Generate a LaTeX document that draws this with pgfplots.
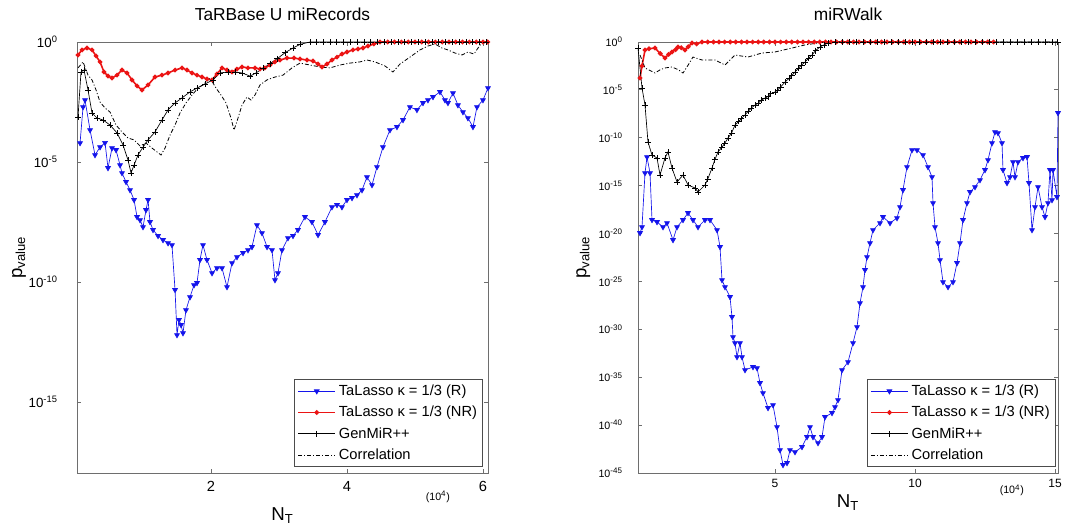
\documentclass[border=0pt]{standalone}
\usepackage{fontspec}
\setmainfont{Liberation Sans}
\usepackage{pgfplots}
\pgfplotsset{compat=1.18}
\definecolor{mblue}{RGB}{20,20,235}
\definecolor{mred}{RGB}{235,20,20}
\definecolor{frame}{RGB}{110,110,110}

\pgfplotsset{
  matlabaxis/.style={
    scale only axis,
    clip=false,
    axis line style={frame, line width=0.7pt},
    tick style={frame, line width=0.6pt},
    major tick length=3pt,
    tick align=inside,
    ymax=0,
    height=323.25pt,
    legend cell align=left,
    legend image code/.code={\draw[mark repeat=2,mark phase=2,##1] plot coordinates {(0pt,0pt) (14pt,0pt) (28pt,0pt)};},
    legend style={at={(axis description cs:1,0)}, anchor=south east, draw=black!70, fill=white,
      row sep=2.5pt, inner sep=2pt, font=\fontsize{11}{12}\selectfont},
    title style={at={(axis description cs:0.5,1)}, anchor=center, yshift=15pt, font=\fontsize{13}{15}\selectfont},
    xlabel style={font=\fontsize{14}{16}\selectfont},
    ylabel style={font=\fontsize{14}{16}\selectfont},
  },
  blues/.style={mblue, line width=0.5pt, mark=triangle*, mark size=2.1pt, mark options={rotate=180, fill=mblue, draw=mblue}},
  reds/.style={mred, line width=1.2pt, mark=*, mark size=1.1pt, mark options={fill=mred, draw=mred}},
  gens/.style={black, line width=0.5pt, mark=+, mark size=2.2pt, mark options={solid}},
  cors/.style={black, line width=0.6pt, dash pattern=on 3pt off 1.5pt on 0.8pt off 1.5pt},
}

\begin{document}
\begin{tikzpicture}
\useasboundingbox (0,0) rectangle (798.75pt,395.25pt);

% left panel
\begin{axis}[
  matlabaxis,
  at={(57.75pt,40.5pt)}, anchor=south west,
  width=308.25pt,
  xmin=0.029, xmax=6.074,
  ymin=-17.96,
  xtick={2,4,6}, xticklabels={2,4,6},
  ytick={-15,-10,-5,0},
  yticklabels={10\textsuperscript{-15},10\textsuperscript{-10},10\textsuperscript{-5},10\textsuperscript{0}},
  xticklabel style={font=\fontsize{11}{12}\selectfont, yshift=-3pt},
  yticklabel style={font=\fontsize{10}{11}\selectfont, xshift=-11pt},
  title={TaRBase U miRecords},
  xlabel={N\textsubscript{T}},
  xlabel style={at={(axis description cs:0.5,0)}, anchor=center, yshift=-32pt},
  ylabel={p\textsubscript{value}},
  ylabel style={at={(axis description cs:-0.141,0.5)}, anchor=center},
  legend style={xshift=-4pt, yshift=4.5pt},
]
\addplot[blues] coordinates {
(0.074,-4.21)(0.118,-2.71)(0.147,-2.42)(0.221,-3.67)(0.294,-4.71)(0.368,-4.38)(0.441,-4.2)(0.485,-5.25)
(0.544,-4.42)(0.603,-4.5)(0.662,-5.13)(0.691,-5.46)(0.75,-5.83)(0.809,-6.17)(0.868,-6.58)(0.912,-7.29)
(0.956,-7.42)(1.0,-7.71)(1.044,-7.0)(1.074,-6.58)(1.103,-7.5)(1.147,-7.83)(1.221,-8.08)(1.294,-8.25)
(1.368,-8.38)(1.426,-8.46)(1.471,-10.33)(1.5,-12.21)(1.529,-11.58)(1.559,-11.79)(1.588,-12.13)(1.632,-11.17)
(1.691,-10.63)(1.75,-10.13)(1.794,-10.04)(1.838,-9.08)(1.882,-8.46)(1.941,-9.08)(2.015,-9.63)(2.088,-9.42)
(2.162,-9.42)(2.235,-10.21)(2.309,-9.21)(2.382,-8.96)(2.471,-8.79)(2.544,-8.67)(2.603,-8.54)(2.676,-7.63)
(2.75,-7.96)(2.824,-8.54)(2.897,-8.67)(2.941,-9.92)(2.985,-9.63)(3.044,-8.67)(3.132,-8.17)(3.206,-8.08)
(3.279,-7.83)(3.382,-7.29)(3.485,-7.5)(3.574,-8.04)(3.676,-7.5)(3.779,-6.88)(3.853,-6.79)(3.926,-6.88)
(4.0,-6.58)(4.074,-6.5)(4.147,-6.38)(4.221,-6.17)(4.294,-5.63)(4.368,-5.96)(4.441,-5.21)(4.529,-4.38)
(4.632,-3.67)(4.735,-3.54)(4.824,-3.25)(4.926,-2.71)(5.029,-2.83)(5.118,-2.54)(5.191,-2.42)(5.265,-2.29)
(5.368,-2.08)(5.441,-2.42)(5.485,-2.54)(5.559,-2.13)(5.632,-2.63)(5.706,-2.92)(5.779,-3.17)(5.853,-3.54)
(5.912,-2.71)(6.0,-2.42)(6.074,-1.92)
};
\addlegendentry{TaLasso κ = 1/3 (R)}
\addplot[reds] coordinates {
(0.044,-0.54)(0.103,-0.33)(0.176,-0.25)(0.25,-0.33)(0.309,-0.58)(0.368,-0.83)(0.426,-1.25)(0.485,-1.42)
(0.544,-1.5)(0.618,-1.38)(0.691,-1.17)(0.765,-1.29)(0.838,-1.58)(0.912,-1.83)(0.985,-2.0)(1.074,-1.79)
(1.176,-1.46)(1.279,-1.38)(1.368,-1.29)(1.471,-1.17)(1.574,-1.08)(1.647,-1.17)(1.721,-1.29)(1.794,-1.38)
(1.868,-1.46)(1.941,-1.54)(2.015,-1.58)(2.088,-1.33)(2.162,-1.08)(2.235,-1.17)(2.309,-1.25)(2.382,-1.13)
(2.456,-1.04)(2.544,-1.08)(2.647,-1.08)(2.721,-1.13)(2.794,-1.08)(2.868,-0.96)(2.941,-0.83)(3.015,-0.75)
(3.118,-0.67)(3.221,-0.67)(3.309,-0.71)(3.412,-0.75)(3.5,-0.79)(3.574,-0.92)(3.632,-1.04)(3.706,-0.92)
(3.779,-0.75)(3.853,-0.63)(3.926,-0.5)(4.0,-0.42)(4.088,-0.33)(4.162,-0.29)(4.235,-0.25)(4.309,-0.17)
(4.397,-0.08)(4.485,0)(4.6,0)(4.7,0)(4.8,0)(4.9,0)(5.0,0)(5.1,0)(5.2,0)(5.3,0)(5.4,0)(5.5,0)(5.6,0)
(5.7,0)(5.8,0)(5.9,0)(6.0,0)(6.07,0)
};
\addlegendentry{TaLasso κ = 1/3 (NR)}
\addplot[gens] coordinates {
(0.044,-3.125)(0.088,-1.25)(0.132,-1.17)(0.191,-2.0)(0.25,-2.96)(0.324,-3.17)(0.412,-3.25)(0.515,-3.46)
(0.618,-3.79)(0.706,-4.29)(0.779,-4.92)(0.824,-5.46)(0.868,-5.13)(0.926,-4.71)(1.0,-4.38)(1.074,-4.08)
(1.176,-3.75)(1.279,-3.25)(1.368,-2.83)(1.471,-2.54)(1.574,-2.33)(1.691,-2.08)(1.794,-1.92)(1.912,-1.75)
(2.029,-1.58)(2.132,-1.29)(2.25,-1.25)(2.353,-1.25)(2.456,-1.29)(2.574,-1.42)(2.662,-1.29)(2.765,-1.1)
(2.868,-0.9)(2.971,-0.7)(3.088,-0.45)(3.206,-0.25)(3.309,-0.1)(3.456,0)(3.55,0)(3.65,0)(3.75,0)
(3.85,0)(3.95,0)(4.05,0)(4.15,0)(4.25,0)(4.35,0)(4.45,0)(4.55,0)(4.65,0)(4.75,0)(4.85,0)(4.95,0)
(5.05,0)(5.15,0)(5.25,0)(5.35,0)(5.45,0)(5.55,0)(5.65,0)(5.75,0)(5.85,0)(5.95,0)(6.05,0)
};
\addlegendentry{GenMiR++}
\addplot[cors] coordinates {
(0.044,-1.08)(0.118,-0.83)(0.191,-1.38)(0.25,-1.58)(0.309,-2.0)(0.368,-2.5)(0.441,-2.75)(0.515,-2.92)
(0.603,-3.46)(0.691,-3.75)(0.779,-4.0)(0.868,-4.08)(0.956,-4.33)(1.044,-4.21)(1.132,-4.42)(1.206,-4.58)
(1.265,-4.71)(1.324,-4.42)(1.397,-3.88)(1.471,-3.46)(1.544,-2.96)(1.632,-2.54)(1.721,-2.21)(1.809,-1.92)
(1.897,-1.75)(1.985,-1.5)(2.074,-1.92)(2.147,-2.21)(2.221,-2.54)(2.294,-3.17)(2.338,-3.67)(2.397,-3.17)
(2.456,-2.63)(2.529,-2.29)(2.588,-2.42)(2.647,-2.21)(2.721,-1.79)(2.824,-1.58)(2.941,-1.46)(3.059,-1.38)
(3.191,-1.08)(3.309,-0.88)(3.456,-0.96)(3.603,-1.04)(3.75,-1.08)(3.897,-0.96)(4.044,-0.88)(4.191,-0.83)
(4.294,-0.75)(4.412,-0.83)(4.559,-1.0)(4.676,-1.25)(4.779,-0.92)(4.926,-0.63)(5.074,-0.33)(5.191,-0.17)
(5.294,-0.08)(5.397,-0.25)(5.485,-0.33)(5.588,-0.46)(5.691,-0.54)(5.779,-0.42)(5.868,-0.5)(5.956,-0.13)
(6.044,0)(6.074,0)
};
\addlegendentry{Correlation}
\node[font=\fontsize{8}{9}\selectfont, yshift=-18pt] at (axis description cs:0.878,0) {(10\textsuperscript{4})};
\end{axis}

% right panel
\begin{axis}[
  matlabaxis,
  at={(478.5pt,40.5pt)}, anchor=south west,
  width=315pt,
  xmin=0.107, xmax=15.107,
  ymin=-45,
  xtick={5,10,15}, xticklabels={5,10,15},
  ytick={-45,-40,-35,-30,-25,-20,-15,-10,-5,0},
  yticklabels={10\textsuperscript{-45},10\textsuperscript{-40},10\textsuperscript{-35},10\textsuperscript{-30},10\textsuperscript{-25},
    10\textsuperscript{-20},10\textsuperscript{-15},10\textsuperscript{-10},10\textsuperscript{-5},10\textsuperscript{0}},
  xticklabel style={font=\fontsize{9}{10}\selectfont, yshift=-1pt},
  yticklabel style={font=\fontsize{8}{9}\selectfont, xshift=-8pt},
  title={miRWalk},
  xlabel={N\textsubscript{T}},
  xlabel style={at={(axis description cs:0.5,0)}, anchor=center, yshift=-22pt},
  ylabel={p\textsubscript{value}},
  ylabel style={at={(axis description cs:-0.130,0.5)}, anchor=center},
  legend style={xshift=-2pt, yshift=4.5pt},
]
\addplot[blues] coordinates {
(0.179,-19.94)(0.25,-19.32)(0.357,-13.68)(0.429,-12.01)(0.536,-13.68)(0.607,-18.58)(0.786,-18.79)(1.0,-19.32)
(1.143,-18.90)(1.357,-20.67)(1.5,-19.32)(1.714,-18.58)(1.893,-17.85)(2.071,-18.58)(2.25,-19.32)(2.5,-18.58)
(2.679,-18.58)(2.929,-19.63)(3.036,-21.40)(3.107,-24.85)(3.214,-25.58)(3.393,-26.62)(3.464,-28.71)(3.5,-30.80)
(3.571,-31.43)(3.643,-32.89)(3.75,-31.43)(3.821,-32.89)(3.929,-34.25)(4.214,-33.93)(4.357,-34.04)(4.464,-35.60)
(4.571,-36.65)(4.75,-38.21)(4.929,-37.90)(5.071,-40.20)(5.179,-42.60)(5.286,-44.16)(5.429,-43.95)(5.536,-42.60)
(5.714,-42.81)(5.964,-42.28)(6.143,-41.24)(6.25,-40.20)(6.357,-41.24)(6.536,-41.87)(6.679,-41.24)(6.786,-39.15)
(7.036,-38.73)(7.143,-38.11)(7.25,-37.38)(7.393,-34.25)(7.607,-33.41)(7.786,-31.43)(7.929,-29.76)(8.036,-27.25)
(8.143,-25.58)(8.214,-23.80)(8.286,-22.45)(8.393,-20.99)(8.5,-19.63)(8.75,-18.90)(8.857,-18.27)(9.107,-18.90)
(9.357,-18.38)(9.464,-17.23)(9.571,-15.45)(9.714,-13.05)(9.893,-11.28)(10.071,-11.28)(10.286,-11.80)(10.464,-13.05)
(10.607,-14.10)(10.643,-16.81)(10.714,-19.32)(10.821,-20.99)(10.893,-22.76)(11.0,-25.06)(11.179,-25.58)(11.357,-25.06)
(11.5,-23.07)(11.607,-20.99)(11.714,-18.58)(11.857,-16.81)(11.964,-15.66)(12.143,-15.14)(12.321,-14.41)(12.5,-13.36)
(12.607,-12.32)(12.75,-10.55)(12.857,-9.40)(12.964,-9.50)(13.107,-10.55)(13.143,-13.36)(13.286,-14.72)(13.393,-14.10)
(13.5,-12.53)(13.571,-14.10)(13.679,-12.53)(13.857,-12.11)(14.0,-12.0)(14.071,-14.72)(14.179,-19.63)(14.286,-17.23)
(14.393,-15.14)(14.536,-17.23)(14.643,-18.27)(14.75,-16.81)(14.821,-13.36)(14.893,-16.50)(14.929,-13.36)(15.071,-16.18)
(15.107,-7.41)
};
\addlegendentry{TaLasso κ = 1/3 (R)}
\addplot[reds] coordinates {
(0.179,-3.76)(0.25,-2.5)(0.357,-0.84)(0.5,-0.7)(0.714,-0.63)(0.9,-1.2)(1.071,-1.67)(1.2,-1.3)(1.321,-1.04)
(1.45,-0.8)(1.536,-0.52)(1.65,-0.6)(1.786,-0.84)(1.9,-0.5)(2.036,-0.10)(2.2,-0.2)(2.393,0)
(2.6,0)(2.8,0)(3.0,0)(3.2,0)(3.4,0)(3.6,0)(3.8,0)(4.0,0)(4.2,0)(4.4,0)(4.6,0)(4.8,0)(5.0,0)(5.2,0)
(5.4,0)(5.6,0)(5.8,0)(6.0,0)(6.2,0)(6.4,0)(6.6,0)(6.8,0)(7.0,0)(7.2,0)(7.4,0)(7.6,0)(7.8,0)(8.0,0)
(8.2,0)(8.4,0)(8.6,0)(8.8,0)(9.0,0)(9.2,0)(9.4,0)(9.6,0)(9.8,0)(10.0,0)(10.2,0)(10.4,0)(10.6,0)
(10.8,0)(11.0,0)(11.2,0)(11.4,0)(11.6,0)(11.8,0)(12.0,0)(12.2,0)(12.4,0)(12.6,0)(12.8,0)
};
\addlegendentry{TaLasso κ = 1/3 (NR)}
\addplot[gens] coordinates {
(0.107,-0.63)(0.25,-4.80)(0.357,-6.58)(0.464,-10.44)(0.607,-11.80)(0.786,-12.11)(0.893,-13.89)(1.071,-12.11)
(1.179,-11.48)(1.321,-13.16)(1.5,-14.62)(1.714,-13.89)(1.893,-14.93)(2.143,-15.24)(2.25,-15.66)(2.5,-14.93)
(2.6,-14.3)(2.75,-13.16)(2.85,-12.3)(2.964,-11.48)(3.1,-11.0)(3.2,-10.6)(3.321,-10.02)(3.45,-9.5)
(3.571,-8.67)(3.7,-8.3)(3.8,-8.0)(3.929,-7.62)(4.05,-7.2)(4.15,-6.9)(4.286,-6.58)(4.4,-6.4)(4.5,-6.1)
(4.643,-5.85)(4.75,-5.7)(4.85,-5.4)(5.0,-5.22)(5.1,-5.0)(5.2,-4.7)(5.357,-4.18)(5.5,-3.8)(5.6,-3.5)
(5.714,-3.13)(5.85,-2.7)(5.95,-2.4)(6.071,-2.09)(6.2,-1.7)(6.321,-1.36)(6.45,-0.9)(6.607,-0.52)
(6.75,-0.3)(6.893,-0.10)(7.15,0)(7.4,0)(7.65,0)(7.9,0)(8.15,0)(8.4,0)(8.65,0)(8.9,0)(9.15,0)(9.4,0)
(9.65,0)(9.9,0)(10.15,0)(10.4,0)(10.65,0)(10.9,0)(11.15,0)(11.4,0)(11.65,0)(11.9,0)(12.15,0)(12.4,0)
(12.65,0)(12.9,0)(13.15,0)(13.4,0)(13.65,0)(13.9,0)(14.15,0)(14.4,0)(14.65,0)(14.9,0)(15.1,0)
};
\addlegendentry{GenMiR++}
\addplot[cors] coordinates {
(0.179,-1.36)(0.357,-2.71)(0.55,-3.0)(0.714,-3.24)(0.9,-2.9)(1.071,-2.71)(1.321,-2.61)(1.55,-2.9)
(1.714,-3.24)(1.9,-2.4)(2.071,-1.57)(2.393,-1.88)(2.857,-1.88)(3.214,-2.40)(3.571,-1.36)(4.036,-1.57)
(4.536,-1.15)(5.0,-1.04)(5.607,-0.63)(6.071,-0.31)(6.536,-0.10)(6.8,0)(15.1,0)
};
\addlegendentry{Correlation}
\node[font=\fontsize{8}{9}\selectfont, yshift=-13pt] at (axis description cs:0.89,0) {(10\textsuperscript{4})};
\end{axis}
\end{tikzpicture}
\end{document}
